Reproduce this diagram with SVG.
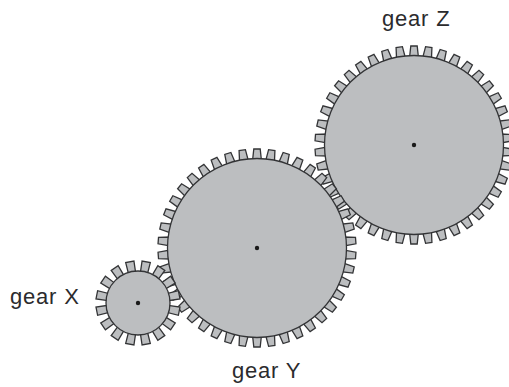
<svg xmlns="http://www.w3.org/2000/svg" width="509" height="387" viewBox="0 0 509 387">
<style>
.b{fill:#bcbec0;stroke:#333436;stroke-width:1.3}
.t{fill:#bcbec0;stroke:#333436;stroke-width:1.3;stroke-linejoin:miter}
.h{fill:#1a1a1a}
text{font-family:"Liberation Sans",Arial,sans-serif;font-size:22px;letter-spacing:.8px;fill:#2b2b2d}
</style>
<defs>
<path id="tb" class="t" d="M-4.5,-87 L-3.2,-99 L3.2,-99 L4.5,-87Z"/>
<path id="ts" class="t" d="M-3.6,-30 L-4.2,-42 L4.2,-42 L3.6,-30Z"/>
</defs>
<rect width="509" height="387" fill="#fff"/>
<g id="gear-z" transform="translate(414 145)">
<use href="#tb"/><use href="#tb" transform="rotate(8.571)"/><use href="#tb" transform="rotate(17.143)"/><use href="#tb" transform="rotate(25.714)"/><use href="#tb" transform="rotate(34.286)"/><use href="#tb" transform="rotate(42.857)"/><use href="#tb" transform="rotate(51.429)"/><use href="#tb" transform="rotate(60)"/><use href="#tb" transform="rotate(68.571)"/><use href="#tb" transform="rotate(77.143)"/><use href="#tb" transform="rotate(85.714)"/><use href="#tb" transform="rotate(94.286)"/><use href="#tb" transform="rotate(102.857)"/><use href="#tb" transform="rotate(111.429)"/><use href="#tb" transform="rotate(120)"/><use href="#tb" transform="rotate(128.571)"/><use href="#tb" transform="rotate(137.143)"/><use href="#tb" transform="rotate(145.714)"/><use href="#tb" transform="rotate(154.286)"/><use href="#tb" transform="rotate(162.857)"/><use href="#tb" transform="rotate(171.429)"/><use href="#tb" transform="rotate(180)"/><use href="#tb" transform="rotate(188.571)"/><use href="#tb" transform="rotate(197.143)"/><use href="#tb" transform="rotate(205.714)"/><use href="#tb" transform="rotate(214.286)"/><use href="#tb" transform="rotate(222.857)"/><use href="#tb" transform="rotate(231.429)"/><use href="#tb" transform="rotate(240)"/><use href="#tb" transform="rotate(248.571)"/><use href="#tb" transform="rotate(257.143)"/><use href="#tb" transform="rotate(265.714)"/><use href="#tb" transform="rotate(274.286)"/><use href="#tb" transform="rotate(282.857)"/><use href="#tb" transform="rotate(291.429)"/><use href="#tb" transform="rotate(300)"/><use href="#tb" transform="rotate(308.571)"/><use href="#tb" transform="rotate(317.143)"/><use href="#tb" transform="rotate(325.714)"/><use href="#tb" transform="rotate(334.286)"/><use href="#tb" transform="rotate(342.857)"/><use href="#tb" transform="rotate(351.429)"/>
<circle class="b" r="89.5"/><circle class="h" r="2.2"/>
</g>
<g id="gear-y" transform="translate(257 248)">
<use href="#tb"/><use href="#tb" transform="rotate(8.571)"/><use href="#tb" transform="rotate(17.143)"/><use href="#tb" transform="rotate(25.714)"/><use href="#tb" transform="rotate(34.286)"/><use href="#tb" transform="rotate(42.857)"/><use href="#tb" transform="rotate(51.429)"/><use href="#tb" transform="rotate(60)"/><use href="#tb" transform="rotate(68.571)"/><use href="#tb" transform="rotate(77.143)"/><use href="#tb" transform="rotate(85.714)"/><use href="#tb" transform="rotate(94.286)"/><use href="#tb" transform="rotate(102.857)"/><use href="#tb" transform="rotate(111.429)"/><use href="#tb" transform="rotate(120)"/><use href="#tb" transform="rotate(128.571)"/><use href="#tb" transform="rotate(137.143)"/><use href="#tb" transform="rotate(145.714)"/><use href="#tb" transform="rotate(154.286)"/><use href="#tb" transform="rotate(162.857)"/><use href="#tb" transform="rotate(171.429)"/><use href="#tb" transform="rotate(180)"/><use href="#tb" transform="rotate(188.571)"/><use href="#tb" transform="rotate(197.143)"/><use href="#tb" transform="rotate(205.714)"/><use href="#tb" transform="rotate(214.286)"/><use href="#tb" transform="rotate(222.857)"/><use href="#tb" transform="rotate(231.429)"/><use href="#tb" transform="rotate(240)"/><use href="#tb" transform="rotate(248.571)"/><use href="#tb" transform="rotate(257.143)"/><use href="#tb" transform="rotate(265.714)"/><use href="#tb" transform="rotate(274.286)"/><use href="#tb" transform="rotate(282.857)"/><use href="#tb" transform="rotate(291.429)"/><use href="#tb" transform="rotate(300)"/><use href="#tb" transform="rotate(308.571)"/><use href="#tb" transform="rotate(317.143)"/><use href="#tb" transform="rotate(325.714)"/><use href="#tb" transform="rotate(334.286)"/><use href="#tb" transform="rotate(342.857)"/><use href="#tb" transform="rotate(351.429)"/>
<circle class="b" r="89.5"/><circle class="h" r="2.2"/>
</g>
<g id="gear-x" transform="translate(138 303)">
<use href="#ts" transform="rotate(11.25)"/><use href="#ts" transform="rotate(33.75)"/><use href="#ts" transform="rotate(56.25)"/><use href="#ts" transform="rotate(78.75)"/><use href="#ts" transform="rotate(101.25)"/><use href="#ts" transform="rotate(123.75)"/><use href="#ts" transform="rotate(146.25)"/><use href="#ts" transform="rotate(168.75)"/><use href="#ts" transform="rotate(191.25)"/><use href="#ts" transform="rotate(213.75)"/><use href="#ts" transform="rotate(236.25)"/><use href="#ts" transform="rotate(258.75)"/><use href="#ts" transform="rotate(281.25)"/><use href="#ts" transform="rotate(303.75)"/><use href="#ts" transform="rotate(326.25)"/><use href="#ts" transform="rotate(348.75)"/>
<circle class="b" r="32"/><circle class="h" r="2.2"/>
</g>
<text x="10" y="304">gear X</text>
<text x="232" y="378">gear Y</text>
<text x="382" y="26">gear Z</text>
</svg>
